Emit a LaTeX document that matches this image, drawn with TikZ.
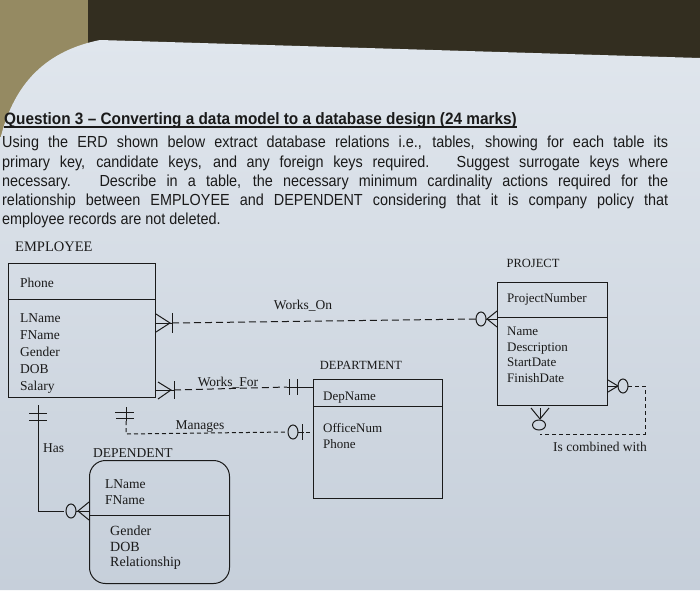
\documentclass[tikz,border=0pt]{standalone}
\usepackage{fontspec}
\setmainfont{Liberation Serif}
\newfontfamily\qfont[FakeStretch=0.9,Ligatures=TeX]{Liberation Sans}
\newfontfamily\tfont[FakeStretch=0.93,Ligatures=TeX]{Liberation Sans}
\usetikzlibrary{calc}
\definecolor{ink}{HTML}{1A1A1A}
\definecolor{wallcol}{HTML}{332E20}
\definecolor{beigecol}{HTML}{958A62}
\definecolor{papertop}{HTML}{E0E6ED}
\definecolor{paperbot}{HTML}{C6CFDA}
\begin{document}
\begin{tikzpicture}[x=1pt,y=-1pt,
  ent/.style={draw=ink, line width=1pt, rectangle, inner sep=0pt, anchor=north west},
  attr/.style={anchor=base west, inner sep=0pt, text=ink, font=\fontsize{13.5}{16}\selectfont},
  dattr/.style={anchor=base west, inner sep=0pt, text=ink, font=\fontsize{14}{16}\selectfont},
  ename/.style={anchor=base west, inner sep=0pt, text=ink, font=\fontsize{13}{16}\selectfont},
  rlabel/.style={anchor=base, inner sep=0pt, text=ink, font=\fontsize{13.5}{16}\selectfont},
  qline/.style={anchor=base west, inner sep=0pt, text=ink, font=\qfont\fontsize{16}{19}\selectfont},
  card/.style={draw=ink, line width=1pt},
  rel/.style={draw=ink, line width=1pt, dash pattern=on 7pt off 4pt},
  relfine/.style={draw=ink, line width=1pt, dash pattern=on 4pt off 3pt},
  ring/.style={draw=ink, line width=1pt, fill=none}
]
\useasboundingbox (0,0) rectangle (700,590);
% ---- photo background
\fill[wallcol] (0,0) rectangle (700,590);
\fill[beigecol] (0,0) rectangle (88,150);
\shade[top color=papertop, bottom color=paperbot]
  (0,140) .. controls (12,90) and (40,52) .. (100,40) -- (700,58) -- (700,590) -- (0,590) -- cycle;

% ---- question text
\node[anchor=base west, inner sep=0pt, text=ink, font=\tfont\bfseries\fontsize{16.5}{19}\selectfont] (title) at (4,124)
  {Question 3 – Converting a data model to a database design (24 marks)};
\draw[ink, line width=1.1pt] ([yshift=-3pt]title.base west) -- ([yshift=-3pt]title.base east);
\node[qline] (q1) at (2,147) {\makebox[666pt][s]{Using the ERD shown below extract database relations i.e., tables, showing for each table its}};
\node[qline] (q2) at (2,167) {\makebox[666pt][s]{primary key, candidate keys, and any foreign keys required.\hspace{5pt} Suggest surrogate keys where}};
\node[qline] (q3) at (2,186) {\makebox[666pt][s]{necessary.\hspace{5pt} Describe in a table, the necessary minimum cardinality actions required for the}};
\node[qline] (q4) at (2,205) {\makebox[666pt][s]{relationship between EMPLOYEE and DEPENDENT considering that it is company policy that}};
\node[qline] (q5) at (2,224) {employee records are not deleted.};

% ---- EMPLOYEE
\node[anchor=base west, inner sep=0pt, text=ink, font=\fontsize{14.5}{17}\selectfont] (empname) at (15,251) {EMPLOYEE};
\node[ent, minimum width=147pt, minimum height=134pt] (emp) at (8,263) {};
\draw[ink, line width=1pt] (emp.west |- 0,299) -- (emp.east |- 0,299);
\node[attr] (emp-pk) at (20,287) {Phone};
\foreach \t/\y [count=\i] in {LName/322,FName/339,Gender/356,DOB/373,Salary/390}
  \node[attr] (emp-a\i) at (20,\y) {\t};

% ---- PROJECT
\node[anchor=base, inner sep=0pt, text=ink, font=\fontsize{12.5}{15}\selectfont] (projname) at (533,267) {PROJECT};
\node[ent, minimum width=110pt, minimum height=123pt] (proj) at (497,282) {};
\draw[ink, line width=1pt] (proj.west |- 0,317) -- (proj.east |- 0,317);
\node[ename] (proj-pk) at (507,302) {ProjectNumber};
\foreach \t/\y [count=\i] in {Name/335,Description/351,StartDate/366,FinishDate/382}
  \node[ename] (proj-a\i) at (507,\y) {\t};

% ---- DEPARTMENT
\node[anchor=base, inner sep=0pt, text=ink, font=\fontsize{12.5}{15}\selectfont] (depname) at (361,369) {DEPARTMENT};
\node[ent, minimum width=129pt, minimum height=119pt] (dep) at (313,379) {};
\draw[ink, line width=1pt] (dep.west |- 0,406) -- (dep.east |- 0,406);
\node[ename] (dep-pk) at (323,400) {DepName};
\node[ename] (dep-a1) at (323,432) {OfficeNum};
\node[ename] (dep-a2) at (323,448) {Phone};

% ---- DEPENDENT
\node[anchor=base west, inner sep=0pt, text=ink, font=\fontsize{13.5}{16}\selectfont] (dpdname) at (93,457) {DEPENDENT};
\node[ent, rounded corners=16pt, minimum width=140pt, minimum height=123pt] (dpd) at (89,460) {};
\draw[ink, line width=1pt] (dpd.west |- 0,515) -- (dpd.east |- 0,515);
\node[attr] (dpd-k1) at (105,488) {LName};
\node[attr] (dpd-k2) at (105,504) {FName};
\node[dattr] (dpd-a1) at (110,535) {Gender};
\node[dattr] (dpd-a2) at (110,551) {DOB};
\node[dattr] (dpd-a3) at (110,566) {Relationship};

% ---- Works_On (EMPLOYEE >|- - - O< PROJECT)
\coordinate (woA) at (emp.east |- 0,323);
\coordinate (woB) at (proj.west |- 0,319);
\draw[card] ($(woA)+(0,-9)$) -- ($(woA)+(14,0)$) -- ($(woA)+(0,9)$);
\draw[card] (woA) -- ($(woA)+(16,0)$);
\draw[card] ($(woA)+(16,-10)$) -- ($(woA)+(16,10)$);
\draw[rel] ($(woA)+(16,0)$) -- ($(woB)+(-21,0)$);
\draw[ring] ($(woB)+(-16,0)$) ellipse [x radius=5pt, y radius=7pt];
\draw[card] ($(woB)+(-11,0)$) -- (woB);
\draw[card] ($(woB)+(0,-8)$) -- ($(woB)+(-10,0)$) -- ($(woB)+(0,8)$);
\node[rlabel] (wolbl) at (303,309) {Works\_On};

% ---- Works_For (EMPLOYEE >|- - -|| DEPARTMENT)
\coordinate (wfA) at (emp.east |- 0,390);
\coordinate (wfB) at (dep.west |- 0,387);
\draw[card] ($(wfA)+(2,-8)$) -- ($(wfA)+(15,0)$) -- ($(wfA)+(2,9)$);
\draw[card] (wfA) -- ($(wfA)+(18,0)$);
\draw[card] ($(wfA)+(18,-9)$) -- ($(wfA)+(18,9)$);
\draw[rel] ($(wfA)+(18,0)$) -- ($(wfB)+(-26,0)$);
\draw[card] ($(wfB)+(-26,0)$) -- (wfB);
\draw[card] ($(wfB)+(-24,-8)$) -- ($(wfB)+(-24,8)$);
\draw[card] ($(wfB)+(-16,-8)$) -- ($(wfB)+(-16,8)$);
\node[rlabel] (wflbl) at (228,386) {Works\_For};

% ---- Manages (EMPLOYEE || - - - O| DEPARTMENT)
\coordinate (mgA) at (126,407);
\coordinate (mgB) at (dep.west |- 0,432);
\draw[card] ($(mgA)+(-11,5)$) -- ($(mgA)+(8,5)$);
\draw[card] ($(mgA)+(-10,11)$) -- ($(mgA)+(8,11)$);
\draw[card] (mgA) -- ($(mgA)+(0,14)$);
\draw[relfine] ($(mgA)+(0,14)$) -- (126,434) -- ($(mgB)+(-26,0)$);
\draw[ring] ($(mgB)+(-20,0)$) ellipse [x radius=5pt, y radius=7pt];
\draw[card] ($(mgB)+(-15,0)$) -- ($(mgB)+(-9,0)$);
\draw[card] ($(mgB)+(-11,-8)$) -- ($(mgB)+(-11,8)$);
\draw[card] ($(mgB)+(-7,0)$) -- ($(mgB)+(-3,0)$);
\node[rlabel] (mglbl) at (200,429) {Manages};

% ---- Has (EMPLOYEE || ---- O< DEPENDENT)
\coordinate (hsA) at (38,405);
\coordinate (hsB) at (dpd.west |- 0,511);
\draw[card] (hsA) -- (38,511) -- ($(hsB)+(-25,0)$);
\draw[card] (29,413) -- (47,413);
\draw[card] (29,420) -- (47,420);
\draw[ring] ($(hsB)+(-18,0)$) ellipse [x radius=5pt, y radius=7pt];
\draw[card] ($(hsB)+(-13,0)$) -- (hsB);
\draw[card] ($(hsB)+(0,-9)$) -- ($(hsB)+(-11,0)$) -- ($(hsB)+(0,9)$);
\node[anchor=base west, inner sep=0pt, text=ink, font=\fontsize{13.5}{16}\selectfont] (hslbl) at (43,452) {Has};

% ---- Is combined with (PROJECT recursive)
\coordinate (icA) at (proj.east |- 0,386);
\coordinate (icB) at (540,405);
\draw[card] ($(icA)+(0,-6)$) -- ($(icA)+(10,0)$) -- ($(icA)+(0,6)$);
\draw[card] (icA) -- ($(icA)+(10,0)$);
\draw[ring] ($(icA)+(15,0)$) ellipse [x radius=5pt, y radius=7pt];
\draw[relfine] ($(icA)+(20,0)$) -- (645,386) -- (645,434) -- (540,434);
\draw[card] ($(icB)+(-9,3)$) -- ($(icB)+(0,14)$) -- ($(icB)+(9,3)$);
\draw[card] ($(icB)+(0,3)$) -- ($(icB)+(0,14)$);
\draw[ring] ($(icB)+(-1,20)$) ellipse [x radius=6.5pt, y radius=5pt];
\node[rlabel] (iclbl) at (600,451) {Is combined with};
\end{tikzpicture}
\end{document}
